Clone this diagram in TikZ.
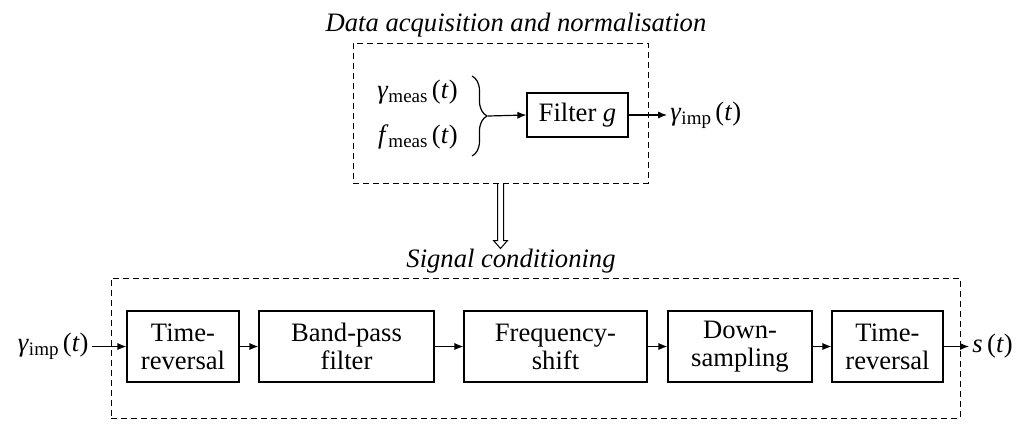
\documentclass[tikz,border=0pt]{standalone}
\usepackage{fontspec}
\setmainfont{Liberation Serif}
\usetikzlibrary{arrows.meta,calc,decorations.pathreplacing}
\newcommand\mysub[1]{\raisebox{-0.35ex}{\fontsize{9.5}{10}\selectfont #1}}
\tikzset{
  blk/.style={draw, line width=0.6pt, minimum height=35.5pt, align=center, inner sep=0pt},
  grp/.style={draw, dash pattern=on 3pt off 2pt, line width=0.5pt},
  con/.style={-{Latex[length=4.5pt,width=3.6pt]}, line width=0.6pt},
  ttl/.style={anchor=base, font=\fontsize{13.3}{14}\selectfont\itshape},
  lbl/.style={inner sep=1.5pt},
}
\begin{document}
\begin{tikzpicture}[x=0.5pt,y=-0.5pt, font=\fontsize{13.3}{14}\selectfont]
\useasboundingbox (0,0) rectangle (1031,423);
% top group
\node[grp, minimum width=147.5pt, minimum height=70pt] (top) at (500.5,113) {};
\node[ttl] (toptitle) at (516,32) {Data acquisition and normalisation};
\node[anchor=base east, inner sep=0pt] (gm) at (458,98) {\textit{γ}\mysub{meas}\,(\textit{t})};
\node[anchor=base east, inner sep=0pt] (fm) at (458,143) {\textit{f}\mysub{meas}\,(\textit{t})};
\coordinate (bt) at (472,76);
\coordinate (bb) at (472,156);
\coordinate (btip) at (488,116);
\draw[line width=0.6pt, decorate, decoration={brace, amplitude=7.5pt}] (bt) -- (bb);
\node[blk, minimum width=50.5pt, minimum height=22pt] (filt) at (577.5,115) {Filter \textit{g}};
\node[lbl, anchor=west] (gimp) at (667,115) {\textit{γ}\mysub{imp}\,(\textit{t})};
\draw[con] (btip) -- (filt.west);
\draw[con] (filt.east) -- (gimp.west);
% block arrow
\draw[line width=0.5pt, line join=miter]
  ($(top.south)+(-3,0)$) -- ($(top.south)+(-3,57)$) -- ($(top.south)+(-7,57)$)
  -- ($(top.south)+(0,65)$) -- ($(top.south)+(7,57)$) -- ($(top.south)+(3,57)$)
  -- ($(top.south)+(3,0)$);
% bottom group
\node[ttl] (bottitle) at (511,267) {Signal conditioning};
\node[grp, minimum width=424.5pt, minimum height=70pt] (bot) at (535.5,348) {};
\node[blk, minimum width=56pt] (b1) at (183,346.5) {Time-\\reversal};
\node[blk, minimum width=87.5pt] (b2) at (346.5,346.5) {Band-pass\\filter};
\node[blk, minimum width=91.5pt] (b3) at (555.5,346.5) {Frequency-\\shift};
\node[blk, minimum width=72pt] (b4) at (740,346.5) {Down-\\sampling};
\node[blk, minimum width=55.5pt] (b5) at (887.5,346.5) {Time-\\reversal};
\node[lbl, anchor=east] (in) at (92,346.5) {\textit{γ}\mysub{imp}\,(\textit{t})};
\node[lbl, anchor=west] (out) at (969,346.5) {\textit{s}\,(\textit{t})};
\draw[con] (in) -- (b1);
\draw[con] (b1) -- (b2);
\draw[con] (b2) -- (b3);
\draw[con] (b3) -- (b4);
\draw[con] (b4) -- (b5);
\draw[con] (b5) -- (out);
\end{tikzpicture}
\end{document}
